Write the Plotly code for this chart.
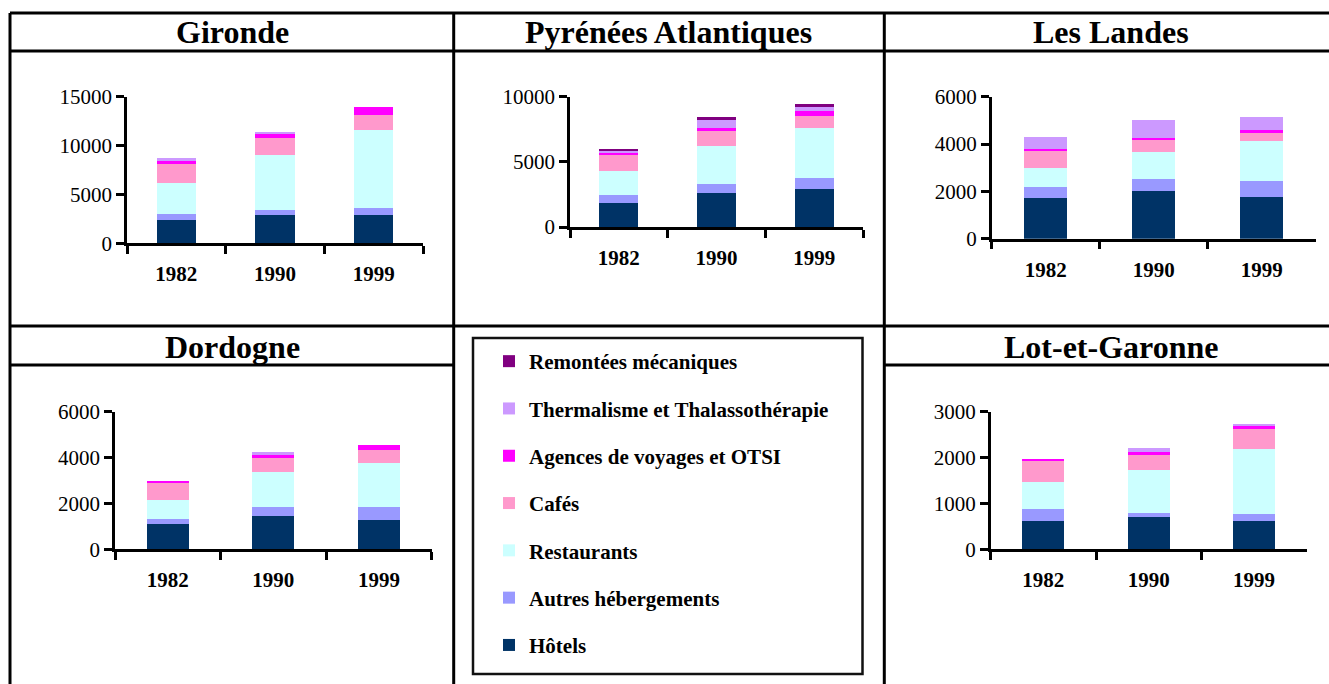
import plotly.graph_objects as go

W, H = 1329, 684

years = ["1982", "1990", "1999"]
series = ["Hôtels", "Autres hébergements", "Restaurants", "Cafés",
          "Agences de voyages et OTSI", "Thermalisme et Thalassothérapie",
          "Remontées mécaniques"]
colors = ["#003366", "#9999FF", "#CCFFFF", "#FF99CC", "#FF00FF", "#CC99FF", "#800080"]

# one row per series (same order as `series`), one value per year
gironde = [
    [2400, 2900, 2900],
    [600, 500, 720],
    [3200, 5630, 7980],
    [1950, 1740, 1540],
    [400, 510, 820],
    [200, 100, 0],
    [0, 0, 0],
]
pyrenees = [
    [1860, 2630, 2940],
    [610, 700, 850],
    [1860, 2860, 3790],
    [1160, 1160, 930],
    [180, 230, 390],
    [230, 700, 310],
    [80, 150, 230],
]
landes = [
    [1720, 2010, 1760],
    [460, 510, 680],
    [810, 1140, 1690],
    [720, 510, 340],
    [85, 85, 130],
    [510, 760, 550],
    [0, 0, 0],
]
dordogne = [
    [1100, 1450, 1280],
    [220, 390, 570],
    [830, 1530, 1920],
    [740, 610, 570],
    [90, 130, 220],
    [0, 130, 0],
    [0, 0, 0],
]
lot_et_garonne = [
    [620, 700, 620],
    [260, 90, 150],
    [590, 940, 1420],
    [480, 330, 435],
    [22, 65, 85],
    [0, 85, 20],
    [0, 0, 0],
]

# name, data, y max, y tick step, plot box in pixels (left, right, top, bottom)
panels = [
    ("Gironde", gironde, 15000, 5000, (127, 423, 96.7, 243.3)),
    ("Pyrénées Atlantiques", pyrenees, 10000, 5000, (570, 863, 96.7, 227)),
    ("Les Landes", landes, 6000, 2000, (991.7, 1315.7, 96.7, 238.7)),
    ("Dordogne", dordogne, 6000, 2000, (115, 431.7, 411.7, 549.3)),
    ("Lot-et-Garonne", lot_et_garonne, 3000, 1000, (990.7, 1306.7, 411.7, 549.3)),
]

FONT = "Liberation Serif, Times New Roman, serif"


def px(x):
    return x / W


def py(y):
    return 1 - y / H


fig = go.Figure()

for i, (name, data, ymax, step, box) in enumerate(panels):
    n = "" if i == 0 else str(i + 1)
    for k, s in enumerate(series):
        fig.add_trace(go.Bar(
            x=years, y=data[k], name=s, marker=dict(color=colors[k], line=dict(width=0)),
            xaxis="x" + n, yaxis="y" + n, legendgroup=s, showlegend=(i == 0),
            legendrank=100 - k,
        ))
    l, r, t, b = box
    fig.layout["xaxis" + n] = dict(
        domain=[px(l), px(r)], anchor="y" + n, type="category",
        showline=True, linecolor="black", linewidth=2.5, showgrid=False,
        ticks="outside", tickson="boundaries", ticklen=8, tickwidth=2.5, tickcolor="black",
        ticklabelstandoff=10,
        tickfont=dict(family=FONT, size=21, color="black", weight="bold"),
        fixedrange=True,
    )
    fig.layout["yaxis" + n] = dict(
        domain=[py(b), py(t)], anchor="x" + n, range=[0, ymax],
        tickmode="linear", tick0=0, dtick=step, tickformat="d",
        showline=True, linecolor="black", linewidth=2.5, showgrid=False, zeroline=False,
        ticks="outside", ticklen=8, tickwidth=2.5, tickcolor="black",
        tickfont=dict(family=FONT, size=21, color="black"),
        fixedrange=True,
    )

# table frame
lines = [
    (10, 13, W, 13), (10, 51, W, 51), (10, 326, W, 326),
    (10, 365, 453.7, 365), (884.3, 365, W, 365),
    (10, 13, 10, H), (453.7, 13, 453.7, H), (884.3, 13, 884.3, H),
]
shapes = [dict(type="line", xref="paper", yref="paper", x0=px(a), y0=py(b2), x1=px(c), y1=py(d),
               line=dict(color="black", width=3)) for a, b2, c, d in lines]
shapes.append(dict(type="rect", xref="paper", yref="paper", x0=px(473), y0=py(674), x1=px(862.5), y1=py(338),
                   line=dict(color="#111111", width=2.5)))

titles = [("Gironde", 232, 32), ("Pyrénées Atlantiques", 668, 32), ("Les Landes", 1111, 32),
          ("Dordogne", 232, 347), ("Lot-et-Garonne", 1111, 347)]
annotations = [dict(text=t, x=px(x), y=py(y), xref="paper", yref="paper", showarrow=False,
                    xanchor="center", yanchor="middle",
                    font=dict(family=FONT, size=32, color="black", weight="bold"))
               for t, x, y in titles]

fig.update_layout(
    width=W, height=H, margin=dict(l=0, r=0, t=0, b=0, autoexpand=False),
    paper_bgcolor="white", plot_bgcolor="white",
    barmode="stack", bargap=0.6,
    shapes=shapes, annotations=annotations,
    showlegend=True,
    legend=dict(
        x=px(489), y=py(341), xanchor="left", yanchor="top",
        traceorder="grouped", tracegroupgap=17,
        font=dict(family=FONT, size=21, color="black", weight="bold"),
        bgcolor="rgba(0,0,0,0)", borderwidth=0,
    ),
)

fig.write_html("out.html", config={"displayModeBar": False},
               post_script="document.body.style.margin='0';")
